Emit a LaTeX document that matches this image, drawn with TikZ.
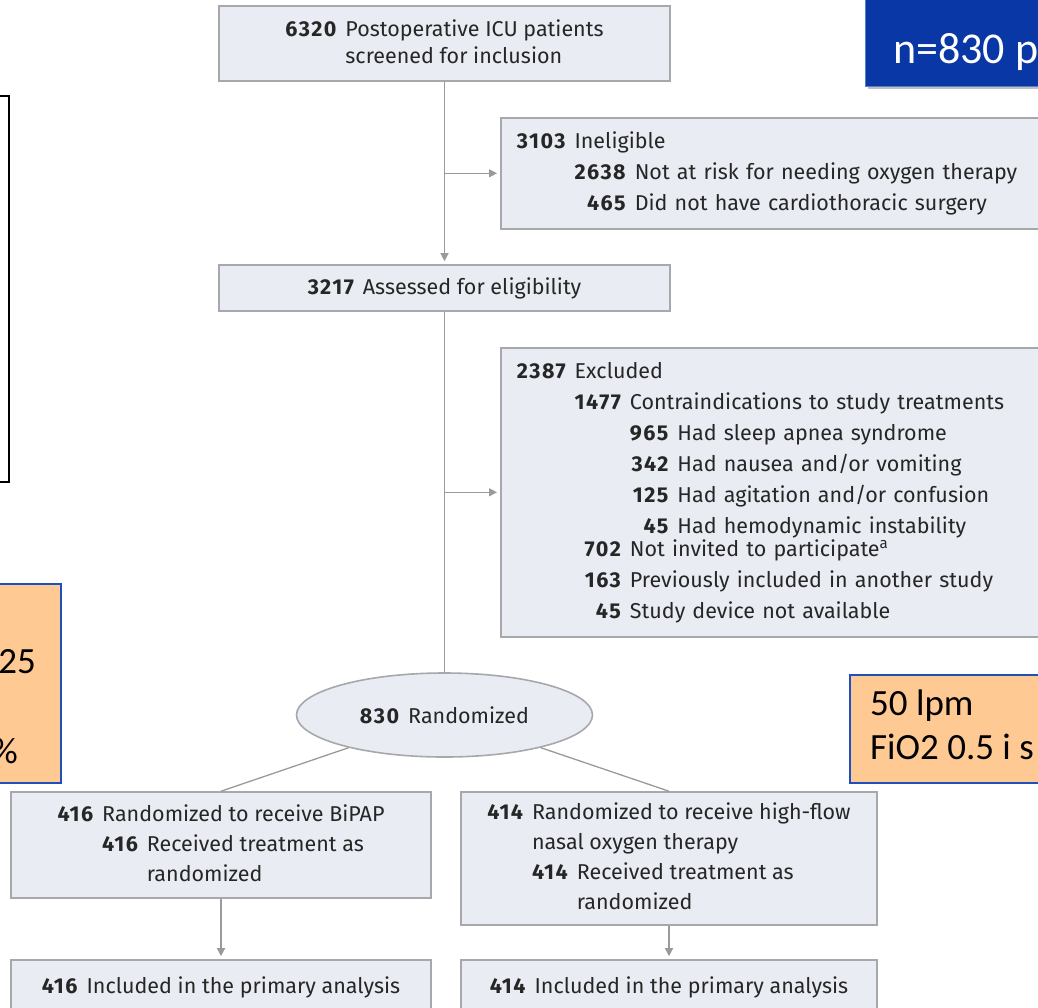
\documentclass[tikz,border=0pt]{standalone}
\usepackage{fontspec}
\setmainfont{Fira Sans}
\newfontfamily\calfont{Carlito}
\usepackage{array}
\usetikzlibrary{shapes,arrows.meta,positioning,calc,shadows}
\usepackage{xcolor}
\definecolor{boxfill}{HTML}{E9ECF2}
\definecolor{boxline}{HTML}{A6A8AB}
\definecolor{flowline}{HTML}{9A9A9A}
\definecolor{slideblue}{HTML}{0A37A6}
\definecolor{slideedge}{HTML}{5A7DC8}
\definecolor{notefill}{HTML}{FFC993}
\definecolor{noteline}{HTML}{1E4FBF}
\newcommand{\nb}[1]{{\bfseries\addfontfeatures{LetterSpace=7}#1}}

\begin{document}
\begin{tikzpicture}[x=1pt, y=-1pt,
    flowbox/.style={rectangle, draw=boxline, fill=boxfill, line width=1.6pt, inner sep=0pt, text=black!85, font=\fontsize{21.5}{30}\selectfont},
    sidebox/.style={flowbox, anchor=north west, inner xsep=16pt, align=left},
    flowarrow/.style={-{Triangle[length=8pt, width=8pt]}, draw=flowline, line width=1.3pt, shorten >=3pt},
    flowlink/.style={draw=flowline, line width=1.3pt},
    notebox/.style={draw=noteline, fill=notefill, line width=1.6pt},
    notetext/.style={font=\calfont\fontsize{37}{44}\selectfont, text=black, inner sep=0pt}
]
\useasboundingbox (0,0) rectangle (1038,1007);
\clip (0,0) rectangle (1038,1007);

% slide overlays
\draw[line width=2pt, fill=white] (-10,96) rectangle (8.5,482);
\node[fill=slideblue, draw=slideedge, line width=1.2pt, drop shadow, anchor=south west, minimum width=220pt, minimum height=120pt] (banner) at (865,87) {};
\node[anchor=base west, inner sep=0pt, text=white, font=\calfont\fontsize{44}{52}\selectfont] (bannertxt) at (893,63) {n=830 p};

\draw[notebox] (-10,584) rectangle (61,783);
\node[notetext, anchor=base east] (ipap) at (36,673) {25};
\node[notetext, anchor=base east] (pct) at (18,763) {\%};
\draw[notebox] (850,675) rectangle (1060,783);
\node[notetext, anchor=north west, align=left] (hfset) at (870,690) {50 lpm\\FiO2 0.5 i s};

% flow diagram
\node[flowbox, minimum width=451pt, minimum height=75pt] (scr) at (444.5,43.5) {\begin{tabular}{@{}r@{\hspace{9pt}}l@{}}\nb{6320} & Postoperative ICU patients\\[-3pt] & screened for inclusion\end{tabular}};
\node[sidebox, text width=540pt, minimum height=111pt, font=\fontsize{21.5}{31}\selectfont] (inel) at (500,117) {\begin{tabular}{@{}r@{\hspace{9pt}}r@{\hspace{9pt}}l@{}}
\nb{3103} & \multicolumn{2}{@{}l@{}}{Ineligible}\\
& \nb{2638} & Not at risk for needing oxygen therapy\\
& \nb{465} & Did not have cardiothoracic surgery
\end{tabular}};
\node[flowbox, minimum width=451pt, minimum height=46pt] (elig) at (444.5,288) {\nb{3217}\hspace{9pt}Assessed for eligibility};
\node[sidebox, text width=540pt, minimum height=289pt, font=\fontsize{21.5}{31}\selectfont] (excl) at (500,347) {\begin{tabular}{@{}r@{\hspace{9pt}}r@{\hspace{9pt}}r@{\hspace{9pt}}l@{}}
\nb{2387} & \multicolumn{3}{@{}l@{}}{Excluded}\\
& \nb{1477} & \multicolumn{2}{@{}l@{}}{Contraindications to study treatments}\\
& & \nb{965} & Had sleep apnea syndrome\\
& & \nb{342} & Had nausea and/or vomiting\\
& & \nb{125} & Had agitation and/or confusion\\
& & \nb{45} & Had hemodynamic instability\\[-8pt]
& \nb{702} & \multicolumn{2}{@{}l@{}}{Not invited to participate\textsuperscript{a}}\\
& \nb{163} & \multicolumn{2}{@{}l@{}}{Previously included in another study}\\
& \nb{45} & \multicolumn{2}{@{}l@{}}{Study device not available}
\end{tabular}};
\node[flowbox, ellipse, minimum width=296pt, minimum height=84pt] (rand) at (444.5,715) {\nb{830}\hspace{9pt}Randomized};
\node[flowbox, minimum width=420pt, minimum height=106pt] (bipap) at (221,845) {\begin{tabular}{@{}r@{\hspace{9pt}}r@{\hspace{9pt}}l@{}}
\nb{416} & \multicolumn{2}{@{}l@{}}{Randomized to receive BiPAP}\\
& \nb{416} & Received treatment as\\
& & randomized
\end{tabular}};
\node[flowbox, minimum width=416pt, minimum height=133pt] (hfno) at (669,858.5) {\begin{tabular}{@{}r@{\hspace{9pt}}r@{\hspace{9pt}}l@{}}
\nb{414} & \multicolumn{2}{@{}l@{}}{Randomized to receive high-flow}\\
& \multicolumn{2}{@{}l@{}}{nasal oxygen therapy}\\
& \nb{414} & Received treatment as\\
& & randomized
\end{tabular}};
\node[flowbox, minimum width=420pt, minimum height=54pt] (anbipap) at (221,987) {\nb{416}\hspace{9pt}Included in the primary analysis};
\node[flowbox, minimum width=416pt, minimum height=54pt] (anhfno) at (669,987) {\nb{414}\hspace{9pt}Included in the primary analysis};

\coordinate (br1) at (scr.south |- inel.west);
\coordinate (br2) at (elig.south |- excl.west);
\draw[flowarrow] (scr) -- (elig);
\draw[flowarrow] (br1) -- (br1 -| inel.west);
\draw[flowlink] (elig) -- (rand);
\draw[flowarrow] (br2) -- (br2 -| excl.west);
\draw[flowlink] (rand) -- (bipap.north);
\draw[flowlink] (rand) -- (hfno.north);
\draw[flowarrow] (bipap) -- (anbipap);
\draw[flowarrow] (hfno) -- (anhfno);
\end{tikzpicture}
\end{document}
